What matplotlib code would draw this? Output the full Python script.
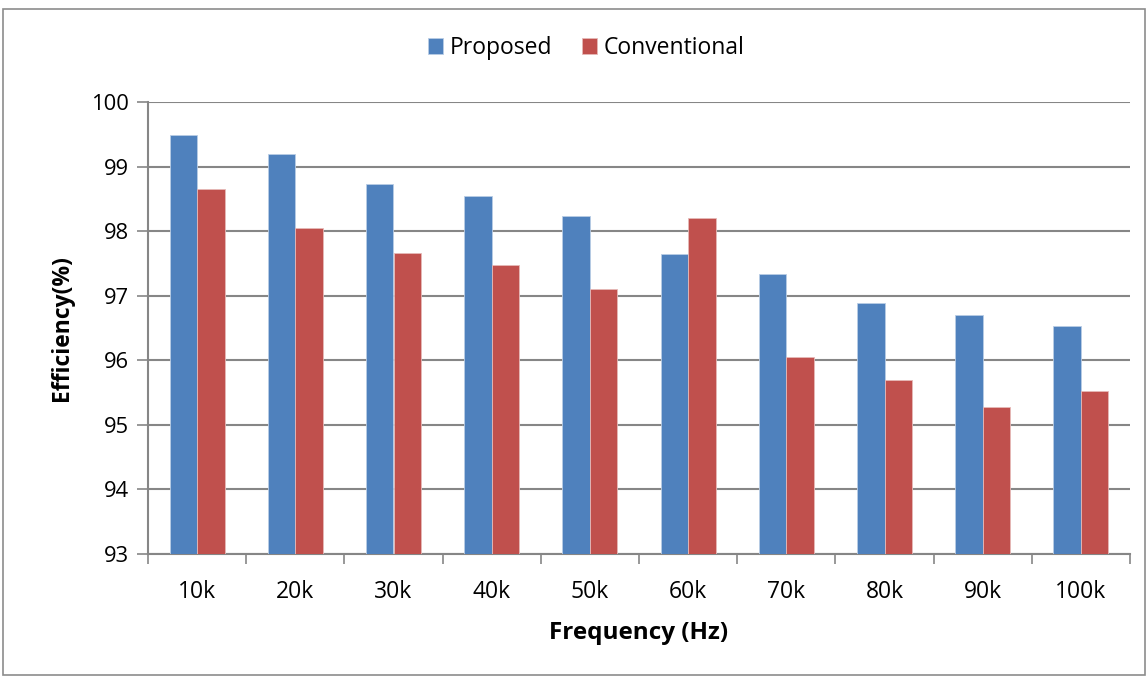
import matplotlib
matplotlib.use("Agg")
import matplotlib.pyplot as plt
import numpy as np
from matplotlib.patches import Rectangle

frequencies = ["10k", "20k", "30k", "40k", "50k", "60k", "70k", "80k", "90k", "100k"]
proposed = [99.49, 99.19, 98.73, 98.54, 98.23, 97.65, 97.34, 96.88, 96.70, 96.53]
conventional = [98.65, 98.05, 97.66, 97.47, 97.10, 98.20, 96.05, 95.70, 95.27, 95.52]
y_ticks = [93, 94, 95, 96, 97, 98, 99, 100]

plt.rcParams["font.family"] = ["Open Sans", "DejaVu Sans"]

fig = plt.figure(figsize=(11.48, 6.77), dpi=100)
ax = fig.add_axes([148 / 1148, 1 - 554 / 677, (1130 - 148) / 1148, (554 - 102) / 677])

# outer chart frame
fig.add_artist(Rectangle((3 / 1148, 2 / 677), 1 - 6 / 1148, 1 - 11 / 677,
                         transform=fig.transFigure, fill=False,
                         edgecolor="#8c8c8c", linewidth=1.2))

x = np.arange(len(frequencies))
w = 0.28
blue = "#4F81BD"
red = "#C0504D"
ax.bar(x - w / 2, [p - 93 for p in proposed], w, bottom=93, color=blue,
       edgecolor="#b9cde5", linewidth=0.6, label="Proposed", zorder=3)
ax.bar(x + w / 2, [c - 93 for c in conventional], w, bottom=93, color=red,
       edgecolor="#e6b9b8", linewidth=0.6, label="Conventional", zorder=3)

ax.set_xlim(-0.5, len(frequencies) - 0.5)
ax.set_ylim(93, 100)
ax.set_yticks(y_ticks)
ax.set_yticklabels([str(t) for t in y_ticks], fontsize=15.8)
ax.yaxis.grid(True, color="#868686", linewidth=1.5, zorder=0)
ax.set_axisbelow(True)

# category labels centred, tick marks on category boundaries
ax.set_xticks(x)
ax.set_xticklabels(frequencies, fontsize=16.5)
ax.tick_params(axis="x", length=0, pad=19)
ax.set_xticks(np.arange(-0.5, len(frequencies)), minor=True)
ax.tick_params(axis="x", which="minor", length=7, color="#868686", width=1.2)
ax.tick_params(axis="y", length=8, color="#868686", width=1.2, pad=6)

for side in ["top", "right"]:
    ax.spines[side].set_visible(False)
for side in ["left", "bottom"]:
    ax.spines[side].set_color("#868686")
    ax.spines[side].set_linewidth(1.5)

ax.set_ylabel("Efficiency(%)", fontsize=16.5, fontweight="bold", labelpad=12)
ax.set_xlabel("Frequency (Hz)", fontsize=17.5, fontweight="bold", labelpad=12)

leg = fig.legend(loc="center", bbox_to_anchor=(586 / 1148, 1 - 48 / 677), ncol=2,
                 frameon=False, fontsize=16.5, handlelength=0.65, handleheight=0.65,
                 handletextpad=0.3, columnspacing=1.3)

fig.savefig("out.png", dpi=100)
